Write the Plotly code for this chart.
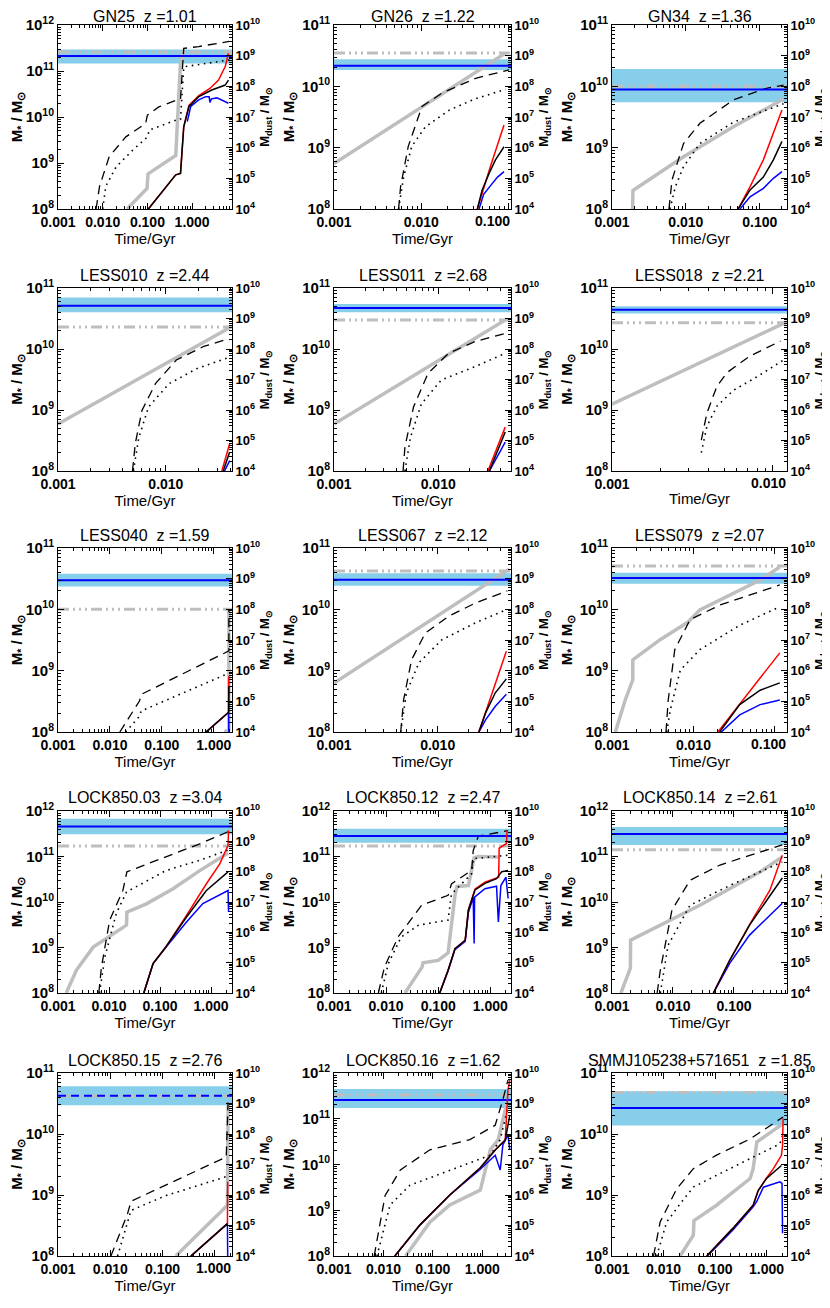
import math
import plotly.graph_objects as go

# ---------------- panel meta data ----------------
NAMES = ["GN25", "GN26", "GN34", "LESS010", "LESS011", "LESS018", "LESS040", "LESS067", "LESS079",
         "LOCK850.03", "LOCK850.12", "LOCK850.14", "LOCK850.15", "LOCK850.16", "SMMJ105238+571651"]
REDSHIFT = [1.01, 1.22, 1.36, 2.44, 2.68, 2.21, 1.59, 2.12, 2.07, 3.04, 2.47, 2.61, 2.76, 1.62, 1.85]
T_MAX = [7.8, 0.107, 0.234, 0.041, 0.050, 0.0123, 2.24, 0.051, 0.141, 2.57, 2.5, 0.74, 2.14, 3.8, 2.5]
MSTAR_TOP = [1e12, 1e11, 1e11, 1e11, 1e11, 1e11, 1e11, 1e11, 1e11, 1e12, 1e12, 1e12, 1e11, 1e12, 1e11]
MSTAR_OBS = [2.6e11, 3.5e10, 1.0e10, 2.3e10, 3.0e10, 2.7e10, 1.0e10, 4.2e10, 5.1e10,
             1.7e11, 1.7e11, 1.4e11, 4.2e10, 3.3e11, 4.8e10]
MDUST_LO = [5.6e8, 3.4e8, 3.0e7, 1.6e9, 1.6e9, 1.45e9, 5.6e8, 5.9e8, 6.8e8,
            1.7e9, 8.9e8, 7.6e8, 8.7e8, 7.1e8, 1.9e8]
MDUST_HI = [1.6e9, 7.6e8, 3.7e8, 4.9e9, 3.0e9, 2.5e9, 1.45e9, 1.5e9, 1.55e9,
            5.6e9, 2.6e9, 2.95e9, 3.7e9, 3.0e9, 2.5e9]
MDUST_OBS = [9.8e8, 4.7e8, 7.9e7, 2.6e9, 2.2e9, 1.95e9, 8.9e8, 9.3e8, 1.05e9,
             3.1e9, 1.5e9, 1.74e9, 1.8e9, 1.3e9, 7.1e8]
DASHED_OBS = [False] * 12 + [True, False, False]

X_TICKS = [0.001, 0.01, 0.1, 1.0]
X_TICKTEXT = ["0.001", "0.010", "0.100", "1.000"]
MSTAR_TICKS = [1e8, 1e9, 1e10, 1e11, 1e12]
MSTAR_TICKTEXT = ["10<sup>8</sup>", "10<sup>9</sup>", "10<sup>10</sup>", "10<sup>11</sup>", "10<sup>12</sup>"]
MDUST_TICKS = [1e4, 1e5, 1e6, 1e7, 1e8, 1e9, 1e10]
MDUST_TICKTEXT = ["10<sup>4</sup>", "10<sup>5</sup>", "10<sup>6</sup>", "10<sup>7</sup>", "10<sup>8</sup>",
                  "10<sup>9</sup>", "10<sup>10</sup>"]

# ---------------- series: (time/Gyr, mass/Msun) ----------------
GN25_gray = [(0.035, 1e8), (0.098, 2.8e8), (0.103, 5.8e8), (0.43, 1.45e9), (0.55, 1.5e11), (0.66, 2.9e11)]
GN25_dash = [(0.0071, 1e8), (0.0085, 3.1e8), (0.014, 1.38e9), (0.033, 3.7e9), (0.091, 7.2e9), (0.10, 1.1e10),
             (0.18, 1.66e10), (0.43, 2.3e10), (0.55, 2.4e10), (0.65, 3.1e11), (1.4, 3.4e11), (6.8, 4.4e11)]
GN25_dot = [(0.010, 1e8), (0.0117, 3.1e8), (0.020, 8.3e8), (0.047, 1.9e9), (0.10, 3.7e9), (0.11, 5.2e9),
            (0.43, 8.5e9), (0.55, 8.9e9), (0.65, 1.23e11), (6.8, 1.74e11)]
GN25_red = [(0.105, 1e4), (0.43, 1.3e5), (0.55, 1.45e5), (0.65, 4.8e6), (0.85, 2.4e7), (1.41, 5.0e7),
            (2.5, 8.5e7), (3.9, 1.6e8), (5.5, 4.4e8), (6.5, 1.2e9)]
GN25_black = [(0.105, 1e4), (0.43, 1.3e5), (0.55, 1.45e5), (0.65, 4.8e6), (0.85, 2.2e7), (1.41, 4.6e7),
              (2.75, 7.6e7), (5.5, 1.1e8), (6.5, 1.6e8)]
GN25_blue = [(0.78, 7.1e6), (0.93, 2.2e7), (1.4, 3.6e7), (2.0, 4.6e7), (2.4, 4.6e7), (2.5, 3.0e7),
             (2.7, 3.9e7), (3.6, 4.2e7), (6.5, 2.8e7)]

GN26_gray = [(0.001, 5.5e8), (0.093, 3.5e10)]
GN26_dash = [(0.0055, 1e8), (0.0058, 2.3e8), (0.0071, 1.05e9), (0.0102, 4.7e9), (0.0174, 7.8e9),
             (0.042, 1.35e10), (0.102, 1.86e10)]
GN26_dot = [(0.0055, 1e8), (0.0063, 3.4e8), (0.0078, 1.05e9), (0.0112, 2.2e9), (0.021, 4.1e9),
            (0.042, 6.3e9), (0.093, 8.9e9)]
GN26_red = [(0.044, 1e4), (0.062, 2.4e5), (0.089, 5.5e6)]
GN26_black = [(0.044, 1e4), (0.050, 4.2e4), (0.060, 1.45e5), (0.071, 4.0e5), (0.089, 1.07e6)]
GN26_blue = [(0.046, 1e4), (0.052, 3.0e4), (0.063, 6.0e4), (0.075, 1.1e5), (0.089, 1.66e5)]

GN34_gray = [(0.0019, 1e8), (0.00192, 2.0e8), (0.0093, 7.1e8), (0.044, 2.2e9), (0.21, 6.2e9)]
GN34_dash = [(0.0059, 1e8), (0.0065, 3.0e8), (0.0093, 1.17e9), (0.0155, 2.5e9), (0.044, 6.0e9),
             (0.123, 9.3e9), (0.21, 1.05e10)]
GN34_dot = [(0.0061, 1e8), (0.0072, 2.3e8), (0.0093, 4.9e8), (0.0155, 1.17e9), (0.044, 2.6e9), (0.21, 5.2e9)]
GN34_red = [(0.051, 1e4), (0.074, 5.4e4), (0.112, 4.0e5), (0.153, 3.0e6), (0.20, 1.7e7)]
GN34_black = [(0.051, 1e4), (0.074, 4.2e4), (0.112, 1.1e5), (0.153, 4.0e5), (0.20, 1.6e6)]
GN34_blue = [(0.054, 1e4), (0.074, 2.5e4), (0.112, 4.7e4), (0.153, 1.0e5), (0.20, 1.66e5)]

LESS010_gray = [(0.001, 5.9e8), (0.040, 2.3e10)]
LESS010_dash = [(0.0049, 1e8), (0.0052, 2.8e8), (0.0060, 9.8e8), (0.0080, 2.7e9), (0.0125, 6.6e9),
                (0.0224, 1.1e10), (0.037, 1.45e10)]
LESS010_dot = [(0.0050, 1e8), (0.0056, 3.5e8), (0.0069, 1.12e9), (0.0107, 2.7e9), (0.0195, 4.8e9), (0.037, 7.1e9)]
LESS010_red = [(0.033, 1e4), (0.039, 7.8e4)]
LESS010_black = [(0.034, 1e4), (0.039, 4.2e4)]
LESS010_blue = [(0.035, 1e4), (0.039, 2.2e4)]

LESS011_gray = [(0.001, 5.9e8), (0.044, 3.0e10)]
LESS011_dash = [(0.0046, 1e8), (0.0048, 2.5e8), (0.0058, 1.12e9), (0.0080, 4.0e9), (0.0126, 8.5e9),
                (0.0224, 1.32e10), (0.044, 1.8e10)]
LESS011_dot = [(0.0048, 1e8), (0.0054, 3.5e8), (0.0069, 1.26e9), (0.0107, 3.1e9), (0.0224, 5.1e9), (0.044, 8.5e9)]
LESS011_red = [(0.030, 1e4), (0.044, 2.75e5)]
LESS011_black = [(0.031, 1e4), (0.044, 1.9e5)]
LESS011_blue = [(0.031, 1e4), (0.044, 8.9e4)]

LESS018_gray = [(0.001, 1.25e9), (0.012, 2.7e10)]
LESS018_dash = [(0.0036, 3.2e8), (0.0039, 8.9e8), (0.0045, 2.45e9), (0.0052, 4.1e9), (0.0072, 7.6e9),
                (0.0112, 1.35e10)]
LESS018_dot = [(0.0036, 2.0e8), (0.0039, 5.4e8), (0.0045, 1.15e9), (0.0057, 2.1e9), (0.0080, 3.5e9),
               (0.0117, 6.6e9)]
LESS018_red = []
LESS018_black = []
LESS018_blue = []

LESS040_gray = [(1.6, 1e8), (1.95, 1.1e8), (1.95, 1.0e10)]
LESS040_dash = [(0.0155, 1e8), (0.037, 3.2e8), (0.040, 4.1e8), (1.74, 1.95e9), (1.95, 2.1e9), (1.95, 1.0e10)]
LESS040_dot = [(0.020, 1e8), (0.037, 1.8e8), (0.040, 2.2e8), (1.74, 8.5e8), (1.95, 9.1e8)]
LESS040_red = [(0.71, 1e4), (1.93, 4.4e4), (1.95, 6.6e5)]
LESS040_black = [(0.71, 1e4), (1.93, 4.4e4), (1.95, 3.1e5)]
LESS040_blue = [(0.71, 1e4), (1.93, 4.4e4), (1.95, 8e3)]

LESS067_gray = [(0.001, 6.3e8), (0.049, 4.5e10)]
LESS067_dash = [(0.0044, 1e8), (0.0047, 3.4e8), (0.0056, 1.5e9), (0.0076, 4.1e9), (0.0129, 7.8e9),
                (0.023, 1.26e10), (0.047, 2.0e10)]
LESS067_dot = [(0.0044, 1e8), (0.0050, 4.4e8), (0.0066, 1.35e9), (0.011, 3.2e9), (0.023, 6.0e9), (0.047, 1.0e10)]
LESS067_red = [(0.025, 1e4), (0.034, 2.1e5), (0.046, 4.3e6)]
LESS067_black = [(0.025, 1e4), (0.029, 4.2e4), (0.036, 1.9e5), (0.046, 5.4e5)]
LESS067_blue = [(0.025, 1e4), (0.029, 2.5e4), (0.036, 6.9e4), (0.046, 1.7e5)]

LESS079_gray = [(0.0011, 1e8), (0.00145, 3.3e8), (0.0018, 7.1e8), (0.0018, 1.5e9), (0.0039, 3.2e9),
                (0.0086, 6.2e9), (0.012, 9.8e9), (0.066, 3.0e10), (0.115, 4.9e10)]
LESS079_dash = [(0.0046, 1e8), (0.0049, 3.3e8), (0.0059, 2.2e9), (0.0091, 6.8e9), (0.021, 1.17e10), (0.115, 2.5e10)]
LESS079_dot = [(0.0047, 1e8), (0.0052, 2.3e8), (0.0069, 1.02e9), (0.012, 2.2e9), (0.037, 5.5e9), (0.115, 1.1e10)]
LESS079_red = [(0.020, 1e4), (0.048, 1.95e5), (0.115, 3.8e6)]
LESS079_black = [(0.021, 1e4), (0.037, 7.8e4), (0.066, 2.3e5), (0.115, 4.0e5)]
LESS079_blue = [(0.022, 1e4), (0.037, 3.6e4), (0.066, 7.8e4), (0.115, 1.1e5)]

LOCK850_03_gray = [(0.00145, 1e8), (0.0023, 3.2e8), (0.0049, 1.02e9), (0.022, 3.1e9), (0.0224, 6.0e9),
                   (0.054, 9.1e9), (0.18, 1.95e10), (0.60, 4.9e10), (2.15, 1.2e11)]
LOCK850_03_dash = [(0.0063, 1e8), (0.0071, 3.7e8), (0.0103, 4.0e9), (0.0187, 1.8e10), (0.0224, 4.6e10),
                   (0.13, 9.8e10), (0.60, 1.9e11), (2.15, 3.5e11)]
LOCK850_03_dot = [(0.0065, 1e8), (0.0083, 6.2e8), (0.0138, 5.5e9), (0.022, 1.66e10), (0.13, 4.9e10),
                  (0.60, 8.3e10), (2.15, 1.38e11)]
LOCK850_03_red = [(0.048, 1e4), (0.073, 9.3e4), (0.13, 3.3e5), (0.33, 3.6e6), (0.81, 4.0e7), (1.48, 1.8e8),
                  (2.15, 7.4e8), (2.2, 2.3e9)]
LOCK850_03_black = [(0.048, 1e4), (0.073, 9.3e4), (0.13, 3.3e5), (0.33, 3.2e6), (0.81, 2.4e7), (2.15, 9.8e7)]
LOCK850_03_blue = [(0.048, 1e4), (0.073, 9.3e4), (0.13, 3.2e5), (0.33, 2.2e6), (0.69, 8.9e6), (1.41, 1.66e7),
                   (2.15, 2.4e7), (2.2, 4.7e6)]

LOCK850_12_gray = [(0.023, 1e8), (0.049, 3.7e8), (0.051, 4.6e8), (0.10, 5.2e8), (0.155, 7.6e8), (0.21, 1.4e10),
                   (0.23, 2.2e10), (0.38, 2.3e10), (0.49, 9.3e10), (0.59, 1.0e11), (1.41, 9.8e10)]
LOCK850_12_dash = [(0.0071, 1e8), (0.0093, 3.7e8), (0.017, 1.7e9), (0.042, 6.6e9), (0.048, 8.5e9),
                   (0.155, 1.4e10), (0.18, 2.5e10), (0.44, 5.0e10), (0.47, 1.35e11), (0.59, 2.8e11), (2.2, 3.7e11)]
LOCK850_12_dot = [(0.0081, 1e8), (0.011, 4.4e8), (0.0195, 1.7e9), (0.042, 3.1e9), (0.155, 4.0e9),
                  (0.18, 1.5e10), (0.44, 4.2e10), (0.47, 8.9e10), (2.2, 1.07e11)]
LOCK850_12_red = [(0.107, 1e4), (0.155, 5.6e4), (0.21, 2.9e5), (0.28, 4.3e5), (0.33, 5.5e5), (0.38, 5.6e6),
                  (0.51, 2.7e7), (0.79, 4.5e7), (1.32, 6.3e7), (1.45, 6.6e7), (1.48, 5.9e8), (1.9, 7.9e8),
                  (2.05, 8.5e8), (2.1, 2.3e9)]
LOCK850_12_black = [(0.107, 1e4), (0.155, 5.6e4), (0.21, 2.9e5), (0.28, 4.3e5), (0.33, 5.5e5), (0.38, 5.4e6),
                    (0.51, 2.5e7), (0.79, 4.1e7), (1.32, 5.9e7), (1.66, 1.0e8), (2.2, 1.1e8)]
LOCK850_12_blue = [(0.107, 1e4), (0.155, 5.4e4), (0.21, 2.7e5), (0.33, 5.0e5), (0.38, 4.5e6), (0.47, 1.4e7),
                   (0.49, 4.3e5), (0.50, 1.45e7), (0.79, 2.75e7), (1.32, 3.3e7), (1.43, 2.2e6), (1.6, 3.5e7),
                   (2.0, 6.6e7), (2.2, 1.3e7)]

LOCK850_14_gray = [(0.0014, 1e8), (0.0020, 3.5e8), (0.00202, 1.45e9), (0.0275, 8.5e9), (0.27, 4.6e10), (0.62, 9.8e10)]
LOCK850_14_dash = [(0.0055, 1e8), (0.0062, 3.2e8), (0.0096, 6.6e9), (0.019, 3.0e10), (0.059, 6.5e10), (0.62, 1.8e11)]
LOCK850_14_dot = [(0.0062, 1e8), (0.0083, 1.12e9), (0.019, 8.5e9), (0.085, 2.3e10), (0.62, 7.6e10)]
LOCK850_14_red = [(0.046, 1e4), (0.085, 1.2e5), (0.18, 1.8e6), (0.39, 2.5e7), (0.62, 3.5e8)]
LOCK850_14_black = [(0.046, 1e4), (0.085, 1.2e5), (0.18, 1.74e6), (0.62, 6.2e7)]
LOCK850_14_blue = [(0.046, 1e4), (0.085, 9.5e4), (0.18, 8.1e5), (0.62, 9.1e6)]

LOCK850_15_gray = [(0.18, 1e8), (1.66, 6.3e8), (1.75, 6.8e8), (1.8, 2.95e10)]
LOCK850_15_dash = [(0.0103, 1e8), (0.0214, 4.9e8), (0.025, 7.9e8), (0.117, 1.45e9), (1.66, 4.2e9), (1.8, 3.3e10)]
LOCK850_15_dot = [(0.0138, 1e8), (0.0214, 3.6e8), (0.025, 5.6e8), (0.117, 9.8e8), (1.66, 2.0e9)]
LOCK850_15_red = [(0.35, 1e4), (1.75, 1.15e5), (1.77, 2.7e6)]
LOCK850_15_black = [(0.35, 1e4), (1.75, 1.15e5)]
LOCK850_15_blue = [(0.35, 1e4), (1.75, 1.15e5), (1.77, 1e4)]

LOCK850_16_gray = [(0.028, 1e8), (0.087, 5.5e8), (0.22, 1.3e9), (0.91, 2.75e9), (1.45, 2.1e10), (2.1, 3.5e10),
                   (2.9, 1.55e11), (3.3, 2.6e11)]
LOCK850_16_dash = [(0.0065, 1e8), (0.0108, 2.1e9), (0.022, 7.6e9), (0.087, 2.1e10), (0.56, 3.5e10),
                   (1.82, 7.2e10), (2.6, 2.6e11), (3.3, 7.0e11)]
LOCK850_16_dot = [(0.0074, 1e8), (0.0136, 1.3e9), (0.034, 3.5e9), (0.22, 7.6e9), (1.45, 1.6e10), (2.3, 3.5e10),
                  (3.2, 1.55e11)]
LOCK850_16_red = [(0.017, 1e4), (0.055, 1.05e5), (0.22, 1.0e6), (0.91, 7.8e6), (1.82, 3.0e7), (2.9, 6.3e7),
                  (3.3, 2.8e9), (3.6, 5.9e9)]
LOCK850_16_black = [(0.017, 1e4), (0.055, 1.05e5), (0.22, 1.0e6), (0.91, 7.8e6), (1.82, 3.0e7), (2.9, 6.3e7),
                    (3.6, 4.2e8)]
LOCK850_16_blue = [(0.017, 1e4), (0.055, 1.05e5), (0.22, 1.0e6), (0.91, 7.0e6), (1.82, 2.0e7), (2.3, 6.6e6),
                   (2.6, 4.4e7), (3.3, 9.3e7), (3.6, 3.0e7)]

SMMJ_gray = [(0.021, 1e8), (0.038, 2.2e8), (0.039, 3.8e8), (0.107, 6.8e8), (0.48, 1.86e9), (0.55, 2.7e9),
             (0.65, 7.4e9), (1.0, 9.5e9), (2.1, 1.48e10)]
SMMJ_dash = [(0.0064, 1e8), (0.0086, 3.6e8), (0.018, 1.26e9), (0.038, 2.7e9), (0.107, 4.5e9), (0.48, 8.3e9),
             (2.1, 1.9e10)]
SMMJ_dot = [(0.0074, 1e8), (0.0115, 3.6e8), (0.025, 8.7e8), (0.038, 1.35e9), (0.107, 2.1e9), (0.48, 4.0e9),
            (1.82, 6.9e9), (2.1, 1.0e10)]
SMMJ_red = [(0.069, 1e4), (0.22, 7.9e4), (0.55, 4.6e5), (0.69, 1.4e6), (1.0, 3.6e6), (1.35, 7.2e6),
            (1.95, 2.0e7), (2.05, 4.3e7), (2.1, 3.2e8)]
SMMJ_black = [(0.069, 1e4), (0.22, 7.9e4), (0.55, 4.6e5), (0.69, 1.4e6), (1.0, 3.5e6), (1.95, 9.3e6)]
SMMJ_blue = [(0.071, 1e4), (0.22, 7.0e4), (0.55, 4.1e5), (0.64, 5.9e5), (0.87, 1.8e6), (1.82, 2.7e6),
             (2.0, 2.4e6), (2.05, 5.6e4)]

SERIES = [
    (GN25_gray, GN25_dash, GN25_dot, GN25_red, GN25_black, GN25_blue),
    (GN26_gray, GN26_dash, GN26_dot, GN26_red, GN26_black, GN26_blue),
    (GN34_gray, GN34_dash, GN34_dot, GN34_red, GN34_black, GN34_blue),
    (LESS010_gray, LESS010_dash, LESS010_dot, LESS010_red, LESS010_black, LESS010_blue),
    (LESS011_gray, LESS011_dash, LESS011_dot, LESS011_red, LESS011_black, LESS011_blue),
    (LESS018_gray, LESS018_dash, LESS018_dot, LESS018_red, LESS018_black, LESS018_blue),
    (LESS040_gray, LESS040_dash, LESS040_dot, LESS040_red, LESS040_black, LESS040_blue),
    (LESS067_gray, LESS067_dash, LESS067_dot, LESS067_red, LESS067_black, LESS067_blue),
    (LESS079_gray, LESS079_dash, LESS079_dot, LESS079_red, LESS079_black, LESS079_blue),
    (LOCK850_03_gray, LOCK850_03_dash, LOCK850_03_dot, LOCK850_03_red, LOCK850_03_black, LOCK850_03_blue),
    (LOCK850_12_gray, LOCK850_12_dash, LOCK850_12_dot, LOCK850_12_red, LOCK850_12_black, LOCK850_12_blue),
    (LOCK850_14_gray, LOCK850_14_dash, LOCK850_14_dot, LOCK850_14_red, LOCK850_14_black, LOCK850_14_blue),
    (LOCK850_15_gray, LOCK850_15_dash, LOCK850_15_dot, LOCK850_15_red, LOCK850_15_black, LOCK850_15_blue),
    (LOCK850_16_gray, LOCK850_16_dash, LOCK850_16_dot, LOCK850_16_red, LOCK850_16_black, LOCK850_16_blue),
    (SMMJ_gray, SMMJ_dash, SMMJ_dot, SMMJ_red, SMMJ_black, SMMJ_blue),
]

# ---------------- layout geometry (window pixels) ----------------
PAGE_OFF = 8                 # default body margin of the html page
W, H = 830 - PAGE_OFF, 1308 - PAGE_OFF
COL_L = [58, 334, 612]
COL_R = [232, 511, 787]
ROW_T = [25, 288, 548, 811, 1073]
ROW_B = [209, 471, 732, 993, 1256]


def px_x(p):
    return (p - PAGE_OFF) / W


def px_y(p):
    return 1 - (p - PAGE_OFF) / H


FONT = "Liberation Sans, Arial, Helvetica, sans-serif"
GRAY = "#BEBEBE"
SKY = "#87CEEB"
TICKFONT_X = dict(family=FONT, size=14, color="black", weight="bold")

fig = go.Figure()


def xs(p):
    return [a for a, b in p]


def ys(p):
    return [b for a, b in p]


annotations = []
layout = {}

for i in range(15):
    r, c = divmod(i, 3)
    n = i + 1
    xid = "x" if n == 1 else f"x{n}"
    ybase = "y" if n == 1 else f"y{n}"          # dust axis (right, visible) - base, holds the band
    ystar = f"y{n + 15}"                          # stellar-mass axis (left)
    ydust = f"y{n + 30}"                          # dust axis copy (hidden) drawn on top
    xkey = "xaxis" if n == 1 else f"xaxis{n}"
    kbase = "yaxis" if n == 1 else f"yaxis{n}"
    kstar = f"yaxis{n + 15}"
    kdust = f"yaxis{n + 30}"

    x0, x1 = px_x(COL_L[c]), px_x(COL_R[c])
    y0, y1 = px_y(ROW_B[r]), px_y(ROW_T[r])
    tmax = T_MAX[i]
    ytop = MSTAR_TOP[i]
    span = math.log10(tmax) + 3
    width_px = COL_R[c] - COL_L[c]
    decade_px = width_px / span

    # tick labels; a label crowding the right edge is drawn pulled inwards (as in the original)
    tv, tt = [], []
    for k, v in enumerate(X_TICKS):
        if v <= tmax * 1.001:
            tv.append(v)
            dist = (math.log10(tmax) - math.log10(v)) * decade_px
            shift = max(0.0, 19 - dist) if k > 0 else 0.0
            if shift > 1:
                tt.append("")
                frac = (math.log10(v) + 3) / span - shift / width_px
                annotations.append(dict(text=X_TICKTEXT[k], xref=f"{xid} domain", yref=f"{ybase} domain",
                                        x=frac, y=0, xanchor="center", yanchor="top", yshift=-2,
                                        showarrow=False, font=TICKFONT_X))
            else:
                tt.append(X_TICKTEXT[k])
    minor_x = [k * 10 ** e for e in range(-3, 1) for k in range(2, 10) if k * 10 ** e <= tmax]
    top_exp = int(round(math.log10(ytop)))
    yl_v = [v for v in MSTAR_TICKS if v <= ytop * 1.001]
    yl_t = [MSTAR_TICKTEXT[k] for k, v in enumerate(MSTAR_TICKS) if v <= ytop * 1.001]
    minor_yl = [k * 10 ** e for e in range(8, top_exp) for k in range(2, 10)]
    minor_yr = [k * 10 ** e for e in range(4, 10) for k in range(2, 10)]

    layout[xkey] = dict(
        domain=[x0, x1], anchor=ybase, type="log", automargin=False,
        range=[-3, math.log10(tmax)],
        tickmode="array", tickvals=tv, ticktext=tt, tickangle=0,
        ticks="inside", ticklen=6, tickwidth=1, tickcolor="black",
        minor=dict(tickmode="array", tickvals=minor_x, ticks="inside", ticklen=3,
                   tickcolor="black", showgrid=False),
        showline=True, linecolor="black", linewidth=1, mirror="ticks",
        showgrid=False, zeroline=False,
        tickfont=TICKFONT_X,
        title=dict(text="Time/Gyr", font=dict(family=FONT, size=15, color="black"), standoff=2),
    )
    layout[kbase] = dict(
        domain=[y0, y1], anchor=xid, side="right", type="log", automargin=False,
        range=[4, 10],
        tickmode="array", tickvals=MDUST_TICKS, ticktext=MDUST_TICKTEXT,
        ticks="inside", ticklen=6, tickwidth=1, tickcolor="black",
        minor=dict(tickmode="array", tickvals=minor_yr, ticks="inside", ticklen=3,
                   tickcolor="black", showgrid=False),
        showline=True, linecolor="black", linewidth=1,
        showgrid=False, zeroline=False,
        tickfont=dict(family=FONT, size=13, color="black", weight="bold"),
        title=dict(text="M<sub>dust</sub> / M<sub>\u2299</sub>",
                   font=dict(family=FONT, size=13, color="black", weight="bold"), standoff=0),
    )
    layout[kstar] = dict(
        anchor=xid, overlaying=ybase, side="left", type="log", automargin=False,
        range=[8, math.log10(ytop)],
        tickmode="array", tickvals=yl_v, ticktext=yl_t,
        ticks="inside", ticklen=6, tickwidth=1, tickcolor="black",
        minor=dict(tickmode="array", tickvals=minor_yl, ticks="inside", ticklen=3,
                   tickcolor="black", showgrid=False),
        showline=True, linecolor="black", linewidth=1,
        showgrid=False, zeroline=False,
        tickfont=dict(family=FONT, size=15, color="black", weight="bold"),
        title=dict(text="M<sub>*</sub> / M<sub>\u2299</sub>",
                   font=dict(family=FONT, size=15, color="black", weight="bold"), standoff=3),
    )
    layout[kdust] = dict(
        anchor=xid, overlaying=ybase, side="right", type="log", automargin=False,
        range=[4, 10], visible=False, showgrid=False, zeroline=False,
    )

    gray, dash, dot, red, black, blue = SERIES[i]
    # observed dust-mass range (band) on the base dust axis
    fig.add_trace(go.Scatter(x=[0.001, tmax, tmax, 0.001], y=[MDUST_LO[i], MDUST_LO[i], MDUST_HI[i], MDUST_HI[i]],
                             mode="lines", fill="toself", fillcolor=SKY, line=dict(width=0),
                             xaxis=xid, yaxis=ybase, showlegend=False, hoverinfo="skip"))
    # stellar-mass traces
    if gray:
        fig.add_trace(go.Scatter(x=xs(gray), y=ys(gray), mode="lines", xaxis=xid, yaxis=ystar,
                                 line=dict(color=GRAY, width=3.5), showlegend=False))
    fig.add_trace(go.Scatter(x=[0.001, tmax], y=[MSTAR_OBS[i], MSTAR_OBS[i]], mode="lines",
                             xaxis=xid, yaxis=ystar, showlegend=False,
                             line=dict(color=GRAY, width=3,
                                       dash="11px,4px,2px,4px,2px,4px,2px,4px")))
    fig.add_trace(go.Scatter(x=xs(dash), y=ys(dash), mode="lines", xaxis=xid, yaxis=ystar,
                             line=dict(color="black", width=1.3, dash="9px,6px"), showlegend=False))
    fig.add_trace(go.Scatter(x=xs(dot), y=ys(dot), mode="lines", xaxis=xid, yaxis=ystar,
                             line=dict(color="black", width=1.6, dash="1.6px,4.5px"), showlegend=False))
    # dust traces on top
    fig.add_trace(go.Scatter(x=[0.001, tmax], y=[MDUST_OBS[i], MDUST_OBS[i]], mode="lines",
                             xaxis=xid, yaxis=ydust, showlegend=False,
                             line=dict(color="#0000FF", width=2,
                                       dash="8px,5px" if DASHED_OBS[i] else "solid")))
    for ser, col in ((blue, "#0000FF"), (red, "#FF0000"), (black, "black")):
        if ser:
            fig.add_trace(go.Scatter(x=xs(ser), y=ys(ser), mode="lines", xaxis=xid, yaxis=ydust,
                                     line=dict(color=col, width=1.5), showlegend=False))

    title_y = max(ROW_T[r] - 13, 16)   # keep the top row's titles inside the page
    annotations.append(dict(text=f"{NAMES[i]}  z ={REDSHIFT[i]:.2f}", xref="paper", yref="paper",
                            x=px_x((COL_L[c] + COL_R[c]) / 2), y=px_y(title_y),
                            xanchor="center", yanchor="middle", showarrow=False,
                            font=dict(family=FONT, size=16, color="black")))

fig.update_layout(
    width=W, height=H, autosize=False,
    margin=dict(l=0, r=0, t=0, b=0, pad=0, autoexpand=False),
    paper_bgcolor="white", plot_bgcolor="rgba(0,0,0,0)",
    showlegend=False,
    annotations=annotations,
    **layout,
)

fig.write_html("out.html")
